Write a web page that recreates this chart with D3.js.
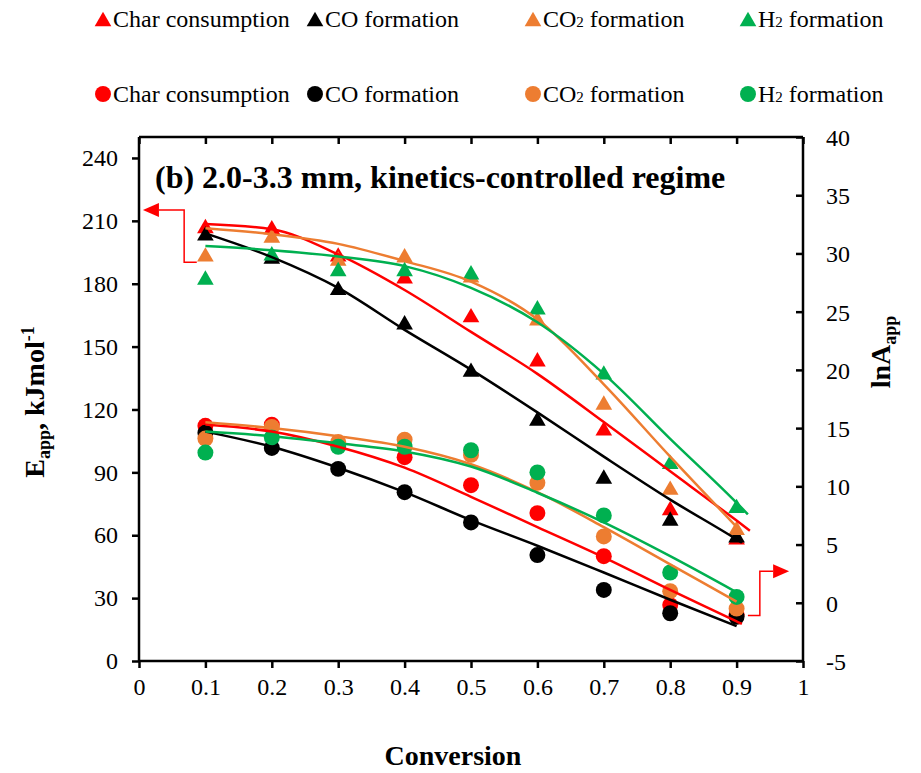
<!DOCTYPE html>
<html>
<head>
<meta charset="utf-8">
<script src="https://cdn.jsdelivr.net/npm/d3@7"></script>
<style>
  body { margin: 0; background: #fff; }
</style>
</head>
<body>
<svg id="chart"></svg>
<script>
// conversion steps
var conversion = [0.1, 0.2, 0.3, 0.4, 0.5, 0.6, 0.7, 0.8, 0.9];

// E_app (kJ/mol), triangles, left axis
var eChar = [207.5, 207, 194, 183.6, 165, 144, 111, 73, 59];
var eCO   = [204, 193, 178, 161.6, 139, 115.7, 88, 68, 60];
var eCO2  = [194, 203, 192, 193.6, 184, 163.5, 123.3, 82.7, 63.5];
var eH2   = [183, 194.5, 187, 187, 185.5, 168.8, 137.7, 95, 74];

// lnA_app, circles, right axis
var aChar = [15.2, 15.3, 13.6, 12.5, 10.1, 7.7, 4.0, -0.2, -1.0];
var aCO   = [14.6, 13.3, 11.5, 9.5, 6.9, 4.1, 1.1, -0.9, -1.2];
var aCO2  = [14.1, 15.1, 13.8, 14.0, 12.7, 10.3, 5.7, 1.0, -0.5];
var aH2   = [12.9, 14.2, 13.4, 13.4, 13.1, 11.2, 7.5, 2.6, 0.5];

// trendlines, at the conversion steps,
// plus the forward-forecast end point where the line runs past 0.9
var trendEnd = [0.92, 0.908, 0.9, 0.917];
var eTrendChar = [208.5, 206, 194, 177, 157, 137, 114, 90.5, 67, 62.2];
var eTrendCO   = [204, 192.7, 178, 158, 139, 118.6, 97.5, 77, 58, 56.4];
var eTrendCO2  = [206.5, 203.6, 199, 190.8, 181, 163, 132, 97.5, 64];
var eTrendH2   = [198, 196, 193, 188.4, 178, 161.6, 137, 106, 75.5, 70];

var aTrendEnd = [0.908, 0.9, 0.9, 0.9];
var aTrendChar = [15.3, 14.7, 13.4, 11.6, 9.1, 6.5, 3.9, 1.1, -1.6, -1.82];
var aTrendCO   = [14.7, 13.4, 11.6, 9.5, 7.1, 4.9, 2.6, 0.26, -2.0];
var aTrendCO2  = [15.5, 15.0, 14.3, 13.4, 11.9, 9.5, 6.5, 3.3, 0.1];
var aTrendH2   = [14.7, 14.3, 13.7, 13.0, 11.7, 9.45, 6.9, 4.0, 0.9];

var seriesNames = ["Char consumption", "CO formation", "CO2 formation", "H2 formation"];
var colors = ["#ff0000", "#000000", "#ed7d31", "#00b050"];

var xTicks = [0, 0.1, 0.2, 0.3, 0.4, 0.5, 0.6, 0.7, 0.8, 0.9, 1];
var leftTicks = [0, 30, 60, 90, 120, 150, 180, 210, 240];
var rightTicks = [-5, 0, 5, 10, 15, 20, 25, 30, 35, 40];

// annotation arrows: [conversion, value]
var leftArrow = [[0.087, 190.3], [0.068, 190.3], [0.068, 215.2], [0.03, 215.2]];
var rightArrow = [[0.917, -1.1], [0.935, -1.1], [0.935, 2.7], [0.955, 2.7]];

var FONT = '"Liberation Serif", "Times New Roman", serif';

var width = 921, height = 773;
var margin = {top: 137, right: 118, bottom: 112, left: 139};
var innerWidth = width - margin.left - margin.right;
var innerHeight = height - margin.top - margin.bottom;

var svg = d3.select('#chart').attr('width', width).attr('height', height)
    .style('font-family', FONT);
var g = svg.append('g').attr('transform', `translate(${margin.left},${margin.top})`);

var x = d3.scaleLinear().domain([0, 1]).range([0, innerWidth]);
var yL = d3.scaleLinear().domain([0, 250]).range([innerHeight, 0]);
var yR = d3.scaleLinear().domain([-5, 40]).range([innerHeight, 0]);

var axisW = 2.5;

// axes
var bottomAxis = g.append('g').attr('transform', `translate(0,${innerHeight})`)
    .call(d3.axisBottom(x).tickValues(xTicks).tickSize(7).tickFormat(d3.format('')));
var topAxis = g.append('g')
    .call(d3.axisBottom(x).tickValues(xTicks).tickSize(7));
var leftAxis = g.append('g')
    .call(d3.axisLeft(yL).tickValues(leftTicks).tickSize(7).tickPadding(14));
var rightAxis = g.append('g').attr('transform', `translate(${innerWidth},0)`)
    .call(d3.axisLeft(yR).tickValues(rightTicks).tickSize(7));
topAxis.selectAll('.tick text').remove();
rightAxis.selectAll('.tick text').remove();
// right tick labels sit outside the box
rightAxis.selectAll('.tick').append('text')
    .attr('x', 23).attr('dy', '0.35em').attr('text-anchor', 'start')
    .attr('fill', '#000')
    .text(d => d);

[bottomAxis, topAxis, leftAxis, rightAxis].forEach(a => {
    a.attr('font-family', null).attr('font-size', null);
    a.select('.domain').attr('stroke-width', axisW);
    a.selectAll('line').attr('stroke-width', axisW);
    a.selectAll('text').style('font-family', FONT).style('font-size', '24px');
});
bottomAxis.select('.domain').attr('d', `M0,0H${innerWidth}`);
topAxis.select('.domain').attr('d', `M0,0H${innerWidth}`);
leftAxis.select('.domain').attr('d', `M0,0V${innerHeight}`);
rightAxis.select('.domain').attr('d', `M0,0V${innerHeight}`);
bottomAxis.selectAll('.tick text').attr('y', 17);

// markers
var triSize = 120, circSize = 200;
var triOff = Math.sqrt(triSize / (3 * Math.sqrt(3))) / 2;
var triPath = d3.symbol().type(d3.symbolTriangle).size(triSize)();
var circPath = d3.symbol().type(d3.symbolCircle).size(circSize)();

var eSeries = [eChar, eCO, eCO2, eH2];
var aSeries = [aChar, aCO, aCO2, aH2];
var eTrends = [eTrendChar, eTrendCO, eTrendCO2, eTrendH2];
var aTrends = [aTrendChar, aTrendCO, aTrendCO2, aTrendH2];

function trendXs(vals, end) {
    return vals.map((v, j) => j < conversion.length ? conversion[j] : end);
}

eSeries.forEach((vals, i) => {
    g.append('g').selectAll('path').data(vals).enter().append('path')
        .attr('d', triPath)
        .attr('transform', (d, j) => `translate(${x(conversion[j])},${yL(d) + triOff})`)
        .attr('fill', colors[i]);
});
aSeries.forEach((vals, i) => {
    g.append('g').selectAll('path').data(vals).enter().append('path')
        .attr('d', circPath)
        .attr('transform', (d, j) => `translate(${x(conversion[j])},${yR(d)})`)
        .attr('fill', colors[i]);
});

function drawTrend(vals, end, yScale, color) {
    var xs = trendXs(vals, end);
    var ln = d3.line().curve(d3.curveMonotoneX)
        .x((d, j) => x(xs[j])).y(d => yScale(d));
    g.append('path').attr('d', ln(vals))
        .attr('fill', 'none').attr('stroke', color).attr('stroke-width', 2.5);
}
eTrends.forEach((vals, i) => drawTrend(vals, trendEnd[i], yL, colors[i]));
aTrends.forEach((vals, i) => drawTrend(vals, aTrendEnd[i], yR, colors[i]));

// arrows
function drawArrow(pts, yScale, dir) {
    var p = pts.map(d => [x(d[0]), yScale(d[1])]);
    g.append('path').attr('d', d3.line()(p))
        .attr('fill', 'none').attr('stroke', '#ff0000').attr('stroke-width', 1.5);
    var e = p[p.length - 1];
    g.append('path')
        .attr('d', `M${e[0]},${e[1] - 7}L${e[0] + dir * 16},${e[1]}L${e[0]},${e[1] + 7}Z`)
        .attr('fill', '#ff0000');
}
drawArrow(leftArrow, yL, -1);
drawArrow(rightArrow, yR, 1);

// panel title
g.append('text').attr('x', 16).attr('y', 51)
    .style('font-family', FONT).style('font-size', '32px').style('font-weight', 'bold')
    .text('(b) 2.0-3.3 mm, kinetics-controlled regime');

// axis titles
var yt = svg.append('text')
    .attr('transform', 'translate(44,402) rotate(-90)')
    .attr('text-anchor', 'middle')
    .style('font-family', FONT).style('font-size', '28px').style('font-weight', 'bold');
yt.append('tspan').text('E');
yt.append('tspan').text('app').style('font-size', '18px').attr('dy', 6);
yt.append('tspan').text(', kJmol').attr('dy', -6);
yt.append('tspan').text('-1').style('font-size', '18px').attr('dy', -10);

var rt = svg.append('text')
    .attr('transform', 'translate(890,352) rotate(-90)')
    .attr('text-anchor', 'middle')
    .style('font-family', FONT).style('font-size', '28px').style('font-weight', 'bold');
rt.append('tspan').text('lnA');
rt.append('tspan').text('app').style('font-size', '18px').attr('dy', 6);

svg.append('text').attr('x', 453).attr('y', 765).attr('text-anchor', 'middle')
    .style('font-family', FONT).style('font-size', '28px').style('font-weight', 'bold')
    .text('Conversion');

// legend: two rows (triangles for E, circles for lnA)
var legendX = [103, 315, 533, 748];
var legendRows = [{y: 19, path: triPath, off: triOff}, {y: 94, path: circPath, off: 0}];
legendRows.forEach(row => {
    seriesNames.forEach((name, i) => {
        var lg = svg.append('g').attr('transform', `translate(${legendX[i]},${row.y})`);
        lg.append('path').attr('d', row.path)
            .attr('transform', `translate(0,${row.off})`).attr('fill', colors[i]);
        var t = lg.append('text').attr('x', 10).attr('y', 8)
            .style('font-family', FONT).style('font-size', '24px');
        var m = name.match(/^(CO|H)2(.*)$/);
        if (m) {
            t.append('tspan').text(m[1]);
            t.append('tspan').text('2').style('font-size', '15px');
            t.append('tspan').text(m[2]);
        } else {
            t.text(name);
        }
    });
});
</script>
</body>
</html>
